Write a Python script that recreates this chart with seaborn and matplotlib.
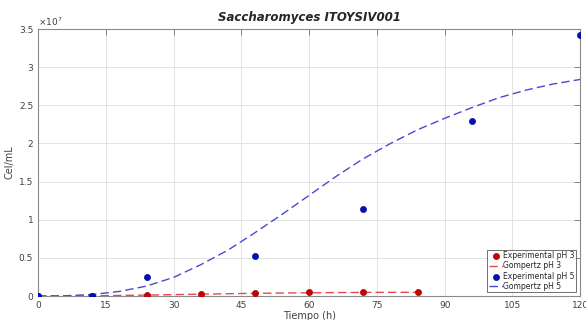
import numpy as np
import pandas as pd
import seaborn as sns
import matplotlib.pyplot as plt
from matplotlib.ticker import FuncFormatter

# experimental data (cells/mL)
t_ph3 = [0, 12, 24, 36, 48, 60, 72, 84]
cel_ph3 = [0.0, 0.0, 0.01e7, 0.026e7, 0.043e7, 0.056e7, 0.056e7, 0.048e7]

t_ph5 = [0, 12, 24, 48, 72, 96, 120]
cel_ph5 = [0.0, 0.005e7, 0.25e7, 0.52e7, 1.14e7, 2.30e7, 3.42e7]

# Gompertz fits
t_fit3 = [0, 6, 12, 18, 24, 30, 36, 42, 48, 54, 60, 66, 72, 78, 84]
fit_ph3 = [0.0, 0.001e7, 0.003e7, 0.007e7, 0.012e7, 0.018e7, 0.024e7, 0.030e7,
           0.035e7, 0.039e7, 0.042e7, 0.045e7, 0.047e7, 0.048e7, 0.049e7]

t_fit5 = [0, 6, 12, 18, 24, 30, 36, 42, 48, 54, 60, 66, 72, 78, 84, 90, 96,
          102, 108, 114, 120]
fit_ph5 = [0.0, 0.003e7, 0.02e7, 0.06e7, 0.13e7, 0.244e7, 0.41e7, 0.6e7, 0.83e7,
           1.07e7, 1.32e7, 1.57e7, 1.8e7, 2.0e7, 2.18e7, 2.33e7, 2.47e7, 2.6e7,
           2.7e7, 2.78e7, 2.84e7]

sns.set_style('white')
plt.rcParams['font.family'] = ['DejaVu Sans']

fig = plt.figure(figsize=(5.86, 3.2), dpi=100)
ax = fig.add_axes([0.065, 0.075, 0.925, 0.834])

sns.scatterplot(x=t_ph3, y=cel_ph3, color='#cc0000', s=20, edgecolor='#880000',
                linewidth=0.4, label='Experimental pH 3', ax=ax, zorder=3)
sns.lineplot(x=t_fit3, y=fit_ph3, color='#e8474f', linestyle=(0, (6, 3)),
             linewidth=1.0, label='Gompertz pH 3', ax=ax)
sns.scatterplot(x=t_ph5, y=cel_ph5, color='#0010c0', s=20, edgecolor='#000070',
                linewidth=0.4, label='Experimental pH 5', ax=ax, zorder=3)
sns.lineplot(x=t_fit5, y=fit_ph5, color='#4a4ad0', linestyle=(0, (6, 3)),
             linewidth=1.0, label='Gompertz pH 5', ax=ax)

ax.set_xlim(0, 120)
ax.set_ylim(0, 3.5e7)
ax.set_xticks(np.arange(0, 121, 15))
ax.set_yticks(np.arange(0, 3.51e7, 0.5e7))
ax.yaxis.set_major_formatter(FuncFormatter(lambda v, p: f'{v / 1e7:g}'))
ax.grid(True, color='#e3e3e3', linewidth=0.7)
ax.set_axisbelow(True)

for s in ax.spines.values():
    s.set_color('#8a8a8a')
    s.set_linewidth(0.8)
ax.tick_params(direction='in', length=4, width=0.6, color='#707070',
               labelsize=6.5, labelcolor='#404040', top=True, right=True)

ax.text(0.0, 1.005, r'$\times10^7$', transform=ax.transAxes, fontsize=6.5,
        color='#404040', ha='left', va='bottom')
ax.set_title('Saccharomyces ITOYSIV001', fontsize=8.5, fontweight='bold',
             fontstyle='italic', pad=6)
ax.set_xlabel('Tiempo (h)', fontsize=7, color='#404040', labelpad=1)
ax.set_ylabel('Cel/mL', fontsize=7, color='#404040', labelpad=3)

leg = ax.legend(loc='lower right', fontsize=5.5, frameon=True, fancybox=False,
                borderpad=0.2, labelspacing=0.15, handlelength=1.8,
                handletextpad=0.1, borderaxespad=0.5)
leg.get_frame().set_edgecolor('#303030')
leg.get_frame().set_linewidth(0.6)

plt.savefig('out.png', dpi=100)
